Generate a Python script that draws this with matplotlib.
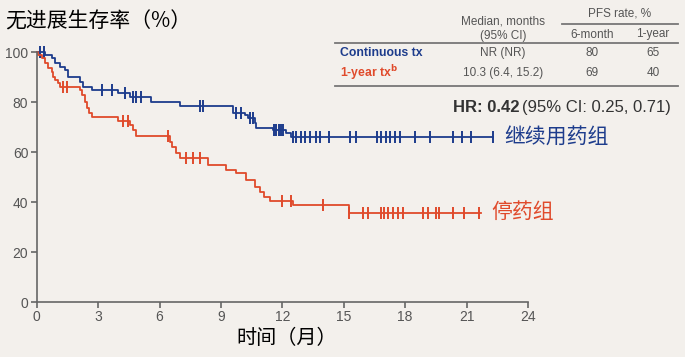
import numpy as np
import matplotlib.pyplot as plt
from matplotlib.lines import Line2D

# Kaplan-Meier steps (months, PFS %)
cont_t = [0, 0.40, 0.73, 0.89, 1.14, 1.38, 1.54, 2.11, 2.27, 2.68, 3.98, 4.55, 5.60,
          7.00, 9.60, 10.16, 10.33, 10.65, 10.73, 11.54, 12.20, 12.44, 22.3]
cont_s = [100, 98.8, 97.5, 95.5, 94.0, 92.8, 90.0, 88.0, 86.0, 84.8, 83.5, 82.0, 80.1,
          78.4, 75.5, 74.8, 73.5, 71.5, 69.5, 68.8, 67.5, 65.9, 65.9]
cont_cens = [0.15, 0.35, 3.17, 3.66, 4.3, 4.7, 4.87, 5.1, 7.97, 8.1, 9.75, 10.0, 10.4,
             10.55, 11.6, 11.7, 11.85, 11.95, 12.05, 12.52, 12.68, 12.9, 13.1, 13.35,
             13.66, 13.82, 14.3, 15.3, 15.61, 16.62, 16.83, 17.07, 17.28, 17.5, 17.76,
             18.5, 19.19, 20.36, 20.77, 21.2, 22.3]

stop_t = [0, 0.05, 0.24, 0.40, 0.56, 0.73, 0.81, 0.89, 1.06, 1.14, 2.11, 2.20, 2.35,
          2.45, 2.55, 2.68, 3.98, 4.55, 4.70, 4.87, 6.50, 6.60, 6.80, 7.00, 8.37, 9.27,
          9.76, 10.24, 10.65, 10.90, 11.10, 11.40, 12.50, 15.28, 21.7]
stop_s = [100, 98.8, 97.5, 95.5, 93.5, 92.0, 90.0, 88.8, 87.5, 86.0, 84.8, 82.8, 80.1,
          77.5, 75.5, 74.0, 72.4, 70.8, 68.8, 66.3, 64.0, 62.0, 59.5, 57.5, 54.8, 52.8,
          51.5, 48.8, 46.0, 44.0, 42.0, 40.3, 38.8, 35.5, 35.5]
stop_cens = [1.3, 1.46, 4.22, 4.45, 6.4, 7.3, 7.64, 7.97, 12.0, 12.4, 14.0, 15.28, 15.93,
             16.18, 16.83, 16.99, 17.15, 17.4, 17.64, 17.88, 18.86, 19.1, 19.51, 19.67,
             20.32, 20.89, 21.62]

x_ticks = [0, 3, 6, 9, 12, 15, 18, 21, 24]
y_ticks = [0, 20, 40, 60, 80, 100]

table_rows = ["Continuous tx", "1-year tx$^{\\mathbf{b}}$"]
table_median = ["NR (NR)", "10.3 (6.4, 15.2)"]
table_6m = ["80", "69"]
table_1y = ["65", "40"]

blue = "#1d3c8c"
red = "#e04a2b"
bg = "#f3f0ec"
W, H = 685, 357

plt.rcParams['font.family'] = ['Liberation Sans', 'Noto Sans CJK SC', 'DejaVu Sans']
cjk = ['Noto Sans CJK SC', 'DejaVu Sans']

fig = plt.figure(figsize=(6.85, 3.57), dpi=100, facecolor=bg)


def fx(x):
    return x / W


def fy(y):
    return 1 - y / H


ax = fig.add_axes([fx(36.7), fy(302), fx(528) - fx(36.7), fy(52) - fy(302)])
ax.set_facecolor(bg)


def at(t, s, c):
    t = np.asarray(t)
    return np.asarray(s)[np.searchsorted(t, c, side='right') - 1]


for t, s, cens, col in [(cont_t, cont_s, cont_cens, blue), (stop_t, stop_s, stop_cens, red)]:
    ax.step(t, s, where='post', color=col, lw=1.3, clip_on=False)
    ax.plot(cens, at(t, s, cens), ls='none', marker='|', ms=9, mew=1.4,
            color=col, clip_on=False)

ax.set_xlim(0, 24)
ax.set_ylim(0, 100)
ax.set_xticks(x_ticks)
ax.set_yticks(y_ticks)
for sp in ['top', 'right']:
    ax.spines[sp].set_visible(False)
for sp in ['left', 'bottom']:
    ax.spines[sp].set_color('#666666')
    ax.spines[sp].set_linewidth(1.2)
ax.tick_params(direction='out', length=4, width=1.2, color='#666666',
               labelcolor='#555555', labelsize=10, pad=2)

# group labels at the curve ends
ax.text(22.84, 65.9, "继续用药组", color=blue, fontsize=15, family=cjk,
        va='center', ha='left', clip_on=False)
ax.text(22.2, 36.0, "停药组", color=red, fontsize=15, family=cjk,
        va='center', ha='left', clip_on=False)

fig.text(fx(5), fy(22), "无进展生存率（%）", fontsize=15, family=cjk, va='center', ha='left')
fig.text(fx(287), fy(338), "时间（月）", fontsize=14.5, family=cjk, va='center', ha='center')

# summary table
tc = '#555555'
fs = 8.5
fig.text(fx(503), fy(22), "Median, months", fontsize=fs, color=tc, ha='center', va='center')
fig.text(fx(503), fy(35.5), "(95% CI)", fontsize=fs, color=tc, ha='center', va='center')
fig.text(fx(620), fy(14), "PFS rate, %", fontsize=fs, color=tc, ha='center', va='center')
fig.text(fx(592), fy(34.5), "6-month", fontsize=fs, color=tc, ha='center', va='center')
fig.text(fx(653), fy(34.5), "1-year", fontsize=fs, color=tc, ha='center', va='center')
for x0, x1, y in [(562, 678, 24), (335, 678, 43), (335, 678, 86)]:
    fig.add_artist(Line2D([fx(x0), fx(x1)], [fy(y), fy(y)], color='#777777', lw=1.3))
for i, col in enumerate([blue, red]):
    y = fy(53 + 20 * i)
    fig.text(fx(340), y, table_rows[i], fontsize=8.8, color=col, weight='bold', va='center')
    fig.text(fx(503), y, table_median[i], fontsize=fs, color=tc, ha='center', va='center')
    fig.text(fx(592), y, table_6m[i], fontsize=fs, color=tc, ha='center', va='center')
    fig.text(fx(653), y, table_1y[i], fontsize=fs, color=tc, ha='center', va='center')

hr = fig.text(fx(453), fy(107), "HR: 0.42", fontsize=12, weight='bold', color='#333333',
              va='center', ha='left')
fig.canvas.draw()
bb = hr.get_window_extent()
fig.text(bb.x1 / fig.bbox.width + 0.004, fy(107), "(95% CI: 0.25, 0.71)", fontsize=12,
         color='#333333', va='center', ha='left')

fig.savefig("out.png", dpi=100, facecolor=bg)
